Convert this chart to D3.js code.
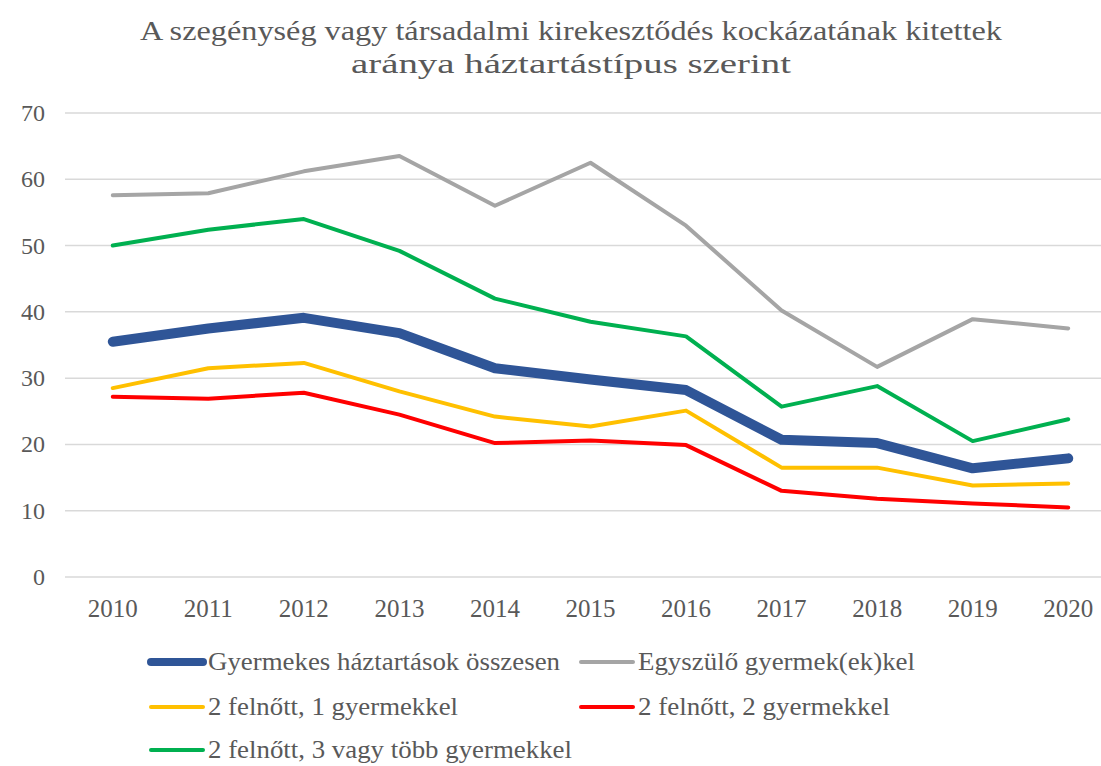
<!DOCTYPE html>
<html>
<head>
<meta charset="utf-8">
<script src="https://cdn.jsdelivr.net/npm/d3@7"></script>
<style>
  body { margin: 0; background: #fff; }
  svg text { font-family: "Liberation Serif", "DejaVu Serif", serif; fill: #595959; }
</style>
</head>
<body>
<div id="chart"></div>
<script>
// évek
const years = ["2010", "2011", "2012", "2013", "2014", "2015", "2016", "2017", "2018", "2019", "2020"];
const yTicks = [0, 10, 20, 30, 40, 50, 60, 70];

// sorozatok (leolvasott értékek)
const osszesen = [35.5, 37.5, 39.1, 36.8, 31.5, 29.8, 28.2, 20.7, 20.2, 16.4, 17.9];
const egyszulo = [57.6, 57.9, 61.2, 63.5, 56.0, 62.5, 53.0, 40.2, 31.7, 38.9, 37.5];
const egyGyermek = [28.5, 31.5, 32.3, 28.0, 24.2, 22.7, 25.1, 16.5, 16.5, 13.8, 14.1];
const ketGyermek = [27.2, 26.9, 27.8, 24.5, 20.2, 20.6, 19.9, 13.0, 11.8, 11.1, 10.5];
const haromGyermek = [50.0, 52.4, 54.0, 49.2, 42.0, 38.5, 36.3, 25.7, 28.8, 20.5, 23.8];

const seriesNames = [
  "Gyermekes háztartások összesen",
  "Egyszülő gyermek(ek)kel",
  "2 felnőtt, 1 gyermekkel",
  "2 felnőtt, 2 gyermekkel",
  "2 felnőtt, 3 vagy több gyermekkel",
];

const series = [
  { name: seriesNames[0], values: osszesen, color: "#2f5597", width: 10 },
  { name: seriesNames[1], values: egyszulo, color: "#a5a5a5", width: 4 },
  { name: seriesNames[2], values: egyGyermek, color: "#ffc000", width: 4 },
  { name: seriesNames[3], values: ketGyermek, color: "#ff0000", width: 4 },
  { name: seriesNames[4], values: haromGyermek, color: "#00b050", width: 4 },
];

const width = 1101, height = 766;

const svg = d3.select("#chart").append("svg")
  .attr("width", width)
  .attr("height", height);

// cím
svg.append("text")
  .attr("x", 571).attr("y", 40)
  .attr("text-anchor", "middle")
  .style("font-size", "28px")
  .attr("textLength", 862)
  .attr("lengthAdjust", "spacingAndGlyphs")
  .text("A szegénység vagy társadalmi kirekesztődés kockázatának kitettek");
svg.append("text")
  .attr("x", 571).attr("y", 73)
  .attr("text-anchor", "middle")
  .style("font-size", "28px")
  .attr("textLength", 440)
  .attr("lengthAdjust", "spacingAndGlyphs")
  .text("aránya háztartástípus szerint");

const x = d3.scaleBand().domain(years).range([65, 1116]);
const y = d3.scaleLinear().domain([0, 70]).range([577, 113]);
const cx = (d) => x(d) + x.bandwidth() / 2;

// rácsvonalak
svg.append("g")
  .selectAll("line")
  .data(yTicks)
  .join("line")
  .attr("x1", 65).attr("x2", width)
  .attr("y1", (d) => y(d)).attr("y2", (d) => y(d))
  .attr("stroke", "#d9d9d9")
  .attr("stroke-width", 1.5);

// y tengely feliratok
svg.append("g")
  .selectAll("text")
  .data(yTicks)
  .join("text")
  .attr("x", 45)
  .attr("y", (d) => y(d) + 8)
  .attr("text-anchor", "end")
  .style("font-size", "24px")
  .text((d) => d);

// x tengely feliratok
svg.append("g")
  .selectAll("text")
  .data(years)
  .join("text")
  .attr("x", (d) => cx(d))
  .attr("y", 617)
  .attr("text-anchor", "middle")
  .style("font-size", "25px")
  .text((d) => d);

const line = d3.line()
  .x((d, i) => cx(years[i]))
  .y((d) => y(d));

// vonalak (összesen legfelül)
svg.append("g")
  .selectAll("path")
  .data(series.slice().reverse())
  .join("path")
  .attr("d", (d) => line(d.values))
  .attr("fill", "none")
  .attr("stroke", (d) => d.color)
  .attr("stroke-width", (d) => d.width)
  .attr("stroke-linejoin", "round")
  .attr("stroke-linecap", "round");

// jelmagyarázat
const legendPos = [
  { x: 148, y: 662 },
  { x: 578, y: 662 },
  { x: 148, y: 707 },
  { x: 578, y: 707 },
  { x: 148, y: 750 },
];
const legendTextLen = [352, 277, 250, 252, 364];

const legend = svg.append("g")
  .selectAll("g")
  .data(series)
  .join("g")
  .attr("transform", (d, i) => "translate(" + legendPos[i].x + "," + legendPos[i].y + ")");

legend.append("line")
  .attr("x1", 3).attr("x2", 55)
  .attr("y1", 0).attr("y2", 0)
  .attr("stroke", (d) => d.color)
  .attr("stroke-width", (d) => (d.width > 5 ? 8 : 4))
  .attr("stroke-linecap", "round");

legend.append("text")
  .attr("x", 60)
  .attr("y", 8)
  .style("font-size", "25px")
  .attr("textLength", (d, i) => legendTextLen[i])
  .attr("lengthAdjust", "spacingAndGlyphs")
  .text((d) => d.name);
</script>
</body>
</html>
